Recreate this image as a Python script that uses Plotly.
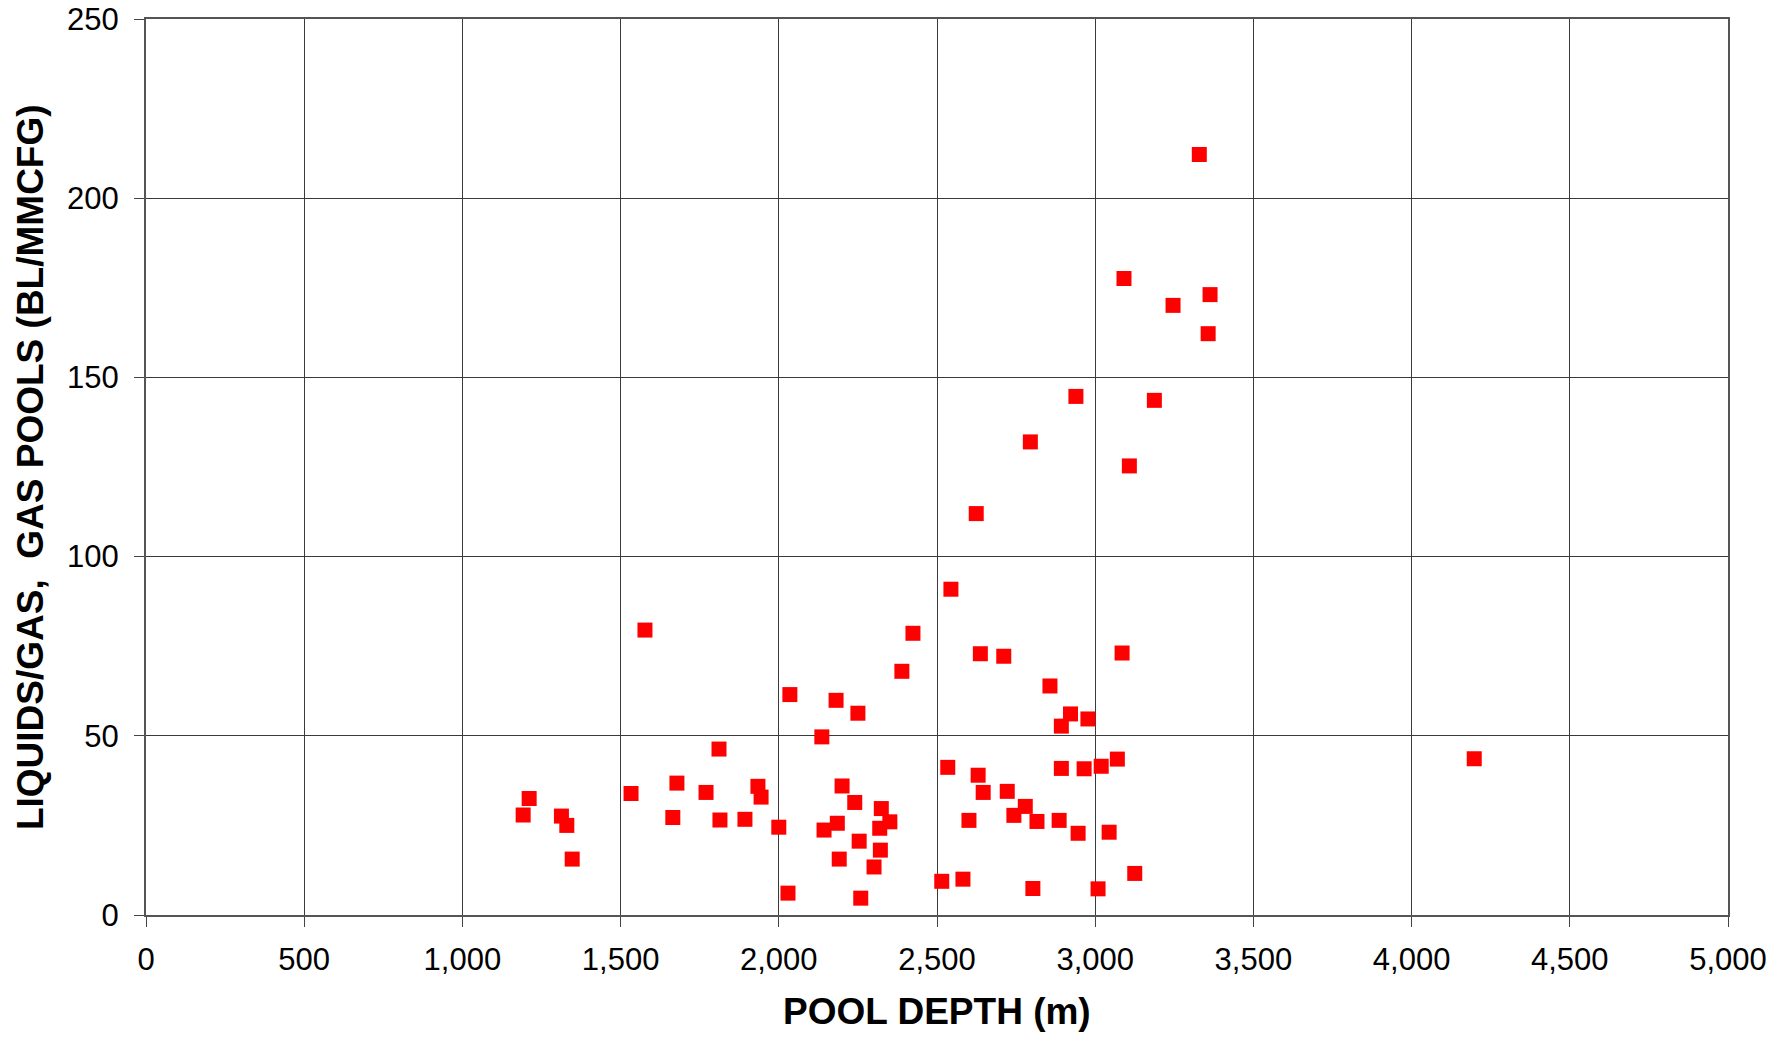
import plotly.graph_objects as go

# Pool depth (m) and liquids/gas ratio (BL/MMCFG)
depth = [1211, 1192, 1313, 1330, 1347,
         1533, 1577, 1678, 1770, 1665, 1811, 1814, 1893, 1934, 1944, 2000, 2029, 2035,
         2136, 2181, 2250, 2200, 2240, 2324, 2351, 2319, 2185, 2143, 2254, 2321, 2191,
         2301, 2259, 2389, 2424, 2515,
         2544, 2637, 2711, 3085, 2857, 2922, 2977, 2893, 2534, 2630, 2893, 2965, 3019,
         3070, 2646, 2722, 2779, 2743, 2816, 2886, 2601, 2946, 3044, 2582, 2803, 3009, 3125,
         3329, 3091, 3363, 3246, 3357, 2939, 3187, 2795, 3108, 2624,
         4198]
ratio = [32.5, 27.9, 27.6, 25.0, 15.6,
         33.9, 79.5, 36.8, 34.2, 27.2, 46.3, 26.5, 26.7, 35.9, 32.9, 24.5, 6.1, 61.5,
         49.7, 59.9, 56.3, 36.0, 31.4, 29.7, 26.0, 24.2, 25.6, 23.7, 20.6, 18.1, 15.6,
         13.4, 4.7, 68.0, 78.6, 9.4,
         90.9, 72.9, 72.2, 73.1, 63.9, 56.1, 54.7, 52.7, 41.2, 39.0, 40.9, 40.8, 41.5,
         43.5, 34.2, 34.5, 30.3, 27.8, 26.1, 26.4, 26.4, 22.8, 23.1, 10.0, 7.4, 7.3, 11.6,
         212.2, 177.6, 173.1, 170.1, 162.2, 144.7, 143.6, 132.0, 125.3, 112.0,
         43.6]

x_ticks = [0, 500, 1000, 1500, 2000, 2500, 3000, 3500, 4000, 4500, 5000]
y_ticks = [0, 50, 100, 150, 200, 250]
x_title = "POOL DEPTH (m)"
y_title = "LIQUIDS/GAS,  GAS POOLS (BL/MMCFG)"

FONT = "Liberation Sans, Arial, sans-serif"

fig = go.Figure()
fig.add_trace(go.Scatter(
    x=depth, y=ratio, mode="markers",
    marker=dict(symbol="square", size=15, color="#FF0000", line=dict(width=0)),
    showlegend=False,
))

axis_common = dict(
    showgrid=True, gridcolor="#3a3a3a", gridwidth=1,
    showline=True, linecolor="#555555", linewidth=2, mirror=True,
    ticks="outside", ticklen=10, tickwidth=1, tickcolor="#444444",
    tickfont=dict(family=FONT, size=31, color="#000000"),
    zeroline=False, automargin=False, ticklabeloverflow="allow",
)

fig.update_xaxes(range=[0, 5000], tickvals=x_ticks,
                 ticktext=[f"{v:,}" for v in x_ticks],
                 ticklabelstandoff=6, **axis_common)
fig.update_yaxes(range=[0, 250], tickvals=y_ticks,
                 ticktext=[str(v) for v in y_ticks],
                 ticklabelstandoff=9, **axis_common)

fig.add_annotation(text=f"<b>{x_title}</b>", xref="paper", yref="paper",
                   x=0.5, y=-0.108, xanchor="center", yanchor="middle",
                   showarrow=False, font=dict(family=FONT, size=37, color="#000000"))
fig.add_annotation(text=f"<b>{y_title}</b>", xref="paper", yref="paper",
                   x=-0.0733, y=0.5, xanchor="center", yanchor="middle",
                   textangle=-90, showarrow=False,
                   font=dict(family=FONT, size=37, color="#000000"))

fig.update_layout(
    width=1774, height=1026,
    margin=dict(l=138, r=54, t=10.5, b=119, pad=0),
    paper_bgcolor="#FFFFFF", plot_bgcolor="#FFFFFF",
    font=dict(family=FONT, color="#000000"),
)

fig.write_html("out.html")
